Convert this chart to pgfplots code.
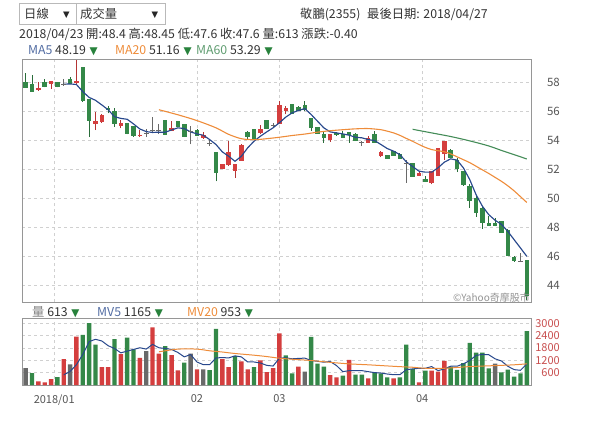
\documentclass[border=0pt]{standalone}
\usepackage{fontspec}
\setmainfont{Noto Sans CJK TC}
\newfontfamily\sym{DejaVu Sans}
\usepackage{pgfplots}
\usepackage{pgfplotstable}
\pgfplotsset{compat=1.18}
\definecolor{cred}{RGB}{212,62,62}
\definecolor{cgreen}{RGB}{52,136,72}
\definecolor{cgray}{RGB}{105,105,105}
\definecolor{cblue}{RGB}{40,72,140}
\definecolor{corange}{RGB}{238,140,58}
\definecolor{cma60}{RGB}{68,140,88}
\definecolor{gridc}{RGB}{208,208,208}
\definecolor{framec}{RGB}{150,150,150}
\definecolor{txt}{RGB}{51,51,51}
\definecolor{tickc}{RGB}{85,85,85}
\definecolor{vtick}{RGB}{200,78,78}
\definecolor{arrowg}{RGB}{40,130,60}

\pgfplotstableread{
i o h l c
2 57.47 58.00 57.42 57.63
4 57.86 58.05 57.52 58.05
8 57.93 59.50 57.80 58.09
11 55.12 55.97 54.70 55.33
12 55.28 55.80 55.20 55.74
15 54.98 55.40 54.82 55.21
18 54.30 54.70 54.20 54.36
23 54.66 55.35 54.62 54.85
28 54.16 54.55 54.09 54.39
31 52.04 52.36 52.04 52.36
32 52.27 53.93 52.20 53.17
33 51.90 52.36 51.39 52.36
34 52.59 53.70 52.59 53.65
37 54.46 55.03 54.39 54.80
40 55.12 56.69 55.08 56.41
41 56.00 56.35 55.77 56.23
48 54.04 54.43 53.90 54.43
54 53.81 54.27 53.81 54.16
56 52.89 53.28 52.82 53.19
62 51.56 51.86 51.51 51.74
64 51.05 51.86 50.94 51.86
65 51.51 53.47 51.51 53.47
66 53.06 53.93 52.66 53.93
}\redc

\pgfplotstableread{
i o h l c
0 58.00 58.62 57.60 57.60
1 57.88 58.50 57.35 57.35
3 58.00 58.20 57.65 57.65
5 58.00 58.00 57.65 57.65
7 58.23 58.35 57.86 57.86
9 59.04 59.04 56.66 56.73
10 56.82 56.82 54.20 55.33
13 56.20 56.38 55.85 56.08
14 56.04 56.20 54.94 55.10
16 55.17 55.17 54.40 54.43
17 55.00 55.00 54.24 54.29
22 55.38 55.38 54.39 54.39
24 55.35 55.35 54.92 54.92
25 55.12 55.12 54.20 54.20
27 54.73 54.80 54.32 54.32
30 53.19 53.19 51.16 51.74
35 54.55 54.62 54.04 54.23
36 54.78 54.78 54.09 54.09
38 55.42 55.42 54.78 54.78
42 56.50 56.50 55.82 55.82
43 56.28 56.35 56.00 56.00
44 56.46 56.69 56.00 56.05
45 55.54 55.54 54.62 54.85
46 54.92 54.92 54.43 54.43
47 54.43 54.57 53.81 54.16
49 54.50 54.55 54.30 54.34
50 54.43 54.62 54.16 54.16
51 54.55 54.55 53.81 54.34
52 54.39 54.50 53.93 53.93
55 54.39 54.62 53.81 53.81
57 53.00 53.00 52.70 52.70
58 53.24 53.28 52.94 52.94
59 53.05 53.10 52.70 52.70
61 52.43 52.43 51.47 51.47
63 51.33 51.51 51.10 51.10
67 53.35 53.40 52.78 52.78
68 52.66 52.78 51.79 52.02
69 51.90 51.90 50.87 50.94
70 50.82 50.94 49.32 49.78
71 50.01 50.13 48.70 48.98
72 49.32 49.39 47.87 48.29
73 48.25 48.75 48.10 48.10
74 48.25 48.63 48.05 48.10
75 48.40 48.45 47.60 47.60
76 47.78 47.87 46.03 46.03
77 45.94 46.03 45.61 45.65
79 45.75 45.75 42.99 43.22
}\greenc

\pgfplotstableread{
i o h l c
6 57.86 58.25 57.75 57.86
19 54.45 54.75 54.20 54.45
20 54.70 55.60 54.55 54.70
21 54.66 55.08 54.43 54.66
26 54.57 55.00 53.70 54.57
29 53.77 54.04 53.58 53.77
39 55.03 55.20 54.85 55.03
53 53.81 53.97 53.58 53.81
60 52.36 52.60 51.05 52.36
78 45.65 46.20 45.60 45.65
}\dojic

\pgfplotstableread{
i v
2 180
3 130
4 280
6 1250
8 2350
12 870
13 870
15 1495
18 1315
20 2790
21 1528
23 1446
24 706
27 756
31 1250
32 870
34 1150
35 756
37 1200
38 624
39 822
40 2510
43 894
48 484
49 369
51 1222
54 320
58 320
62 123
64 697
65 648
66 1173
}\vred

\pgfplotstableread{
i v
1 575
5 378
9 2430
10 3000
11 1955
14 2220
16 2300
17 1725
22 1890
25 1085
29 723
30 2727
33 1413
36 870
41 1435
42 566
45 2337
46 1041
47 894
50 451
52 500
53 500
55 600
56 566
57 369
59 369
60 1960
61 780
63 697
67 894
68 730
69 1058
70 2042
71 1566
72 1566
73 812
75 613
76 746
77 402
78 566
79 2616
}\vgreen

\pgfplotstableread{
i v
0 822
7 1000
19 1643
26 1528
28 756
44 648
74 1041
}\vgray

\pgfplotsset{
  kstyle/.style={scale only axis, anchor=north west, width=509pt,
    xmin=-0.58, xmax=79.66,
    axis line style={draw=framec, line width=0.8pt},
    grid=major, major grid style={draw=gridc, dash pattern=on 3pt off 3pt, line width=0.6pt},
    tick style={draw=none},
    xtick={4.5,27,40,62.5},
    yticklabel pos=right,
    /pgf/number format/assume math mode=true,
    /pgf/number format/1000 sep={},
  },
  wick/.style={forget plot, mark=none, draw=none,
    error bars/.cd, y dir=plus, y explicit, error mark=none,
    error bar style={line width=0.9pt, draw=#1}},
  body/.style={forget plot, mark=none, draw=none,
    error bars/.cd, y dir=both, y explicit, error mark=none,
    error bar style={line width=4.5pt, draw=#1}},
}
\newcommand{\dn}{\hspace{1pt}{\sym\fontsize{10.5}{11}\selectfont\color{arrowg}▼}}
\tikzset{hdr/.style={anchor=base west, inner sep=0, font=\fontsize{12.3}{14}\selectfont, text=txt}}

\begin{document}
\begin{tikzpicture}[x=1pt,y=1pt]
\useasboundingbox (0pt,0pt) rectangle (600pt,-434pt);

% dropdown boxes
\draw[draw=gray!55, line width=0.7pt] (19.5,-3.5) rectangle (76,-24);
\draw[draw=gray!55, line width=0.7pt] (76,-3.5) rectangle (165,-24);
\node[hdr] at (24,-18.5) {日線};
\node[anchor=base west, inner sep=0, font=\sym\fontsize{8.5}{9}\selectfont, text=black!85] at (63,-17) {▼};
\node[hdr] at (80,-18.5) {成交量};
\node[anchor=base west, inner sep=0, font=\sym\fontsize{8.5}{9}\selectfont, text=black!85] at (151.5,-17) {▼};

\node[hdr] at (300,-18) {敬鵬(2355)};
\node[hdr] at (367,-18) {最後日期: 2018/04/27};

\node[hdr] at (19,-38) {2018/04/23 開:48.4 高:48.45 低:47.6 收:47.6 量:613 漲跌:-0.40};

% MA header
\node[hdr] at (28,-54) {{\color{cblue!80}MA5} 48.19 \dn};
\node[hdr] at (115,-54) {{\color{corange}MA20} 51.16 \dn};
\node[hdr] at (196,-54) {{\color{cma60!85}MA60} 53.29 \dn};

% price panel
\begin{axis}[kstyle, at={(22pt,-59pt)}, height=243pt,
  ymin=42.83, ymax=59.6, ytick={44,46,...,58},
  xticklabels={},
  yticklabel style={anchor=east, inner sep=0pt, xshift=29pt, text=tickc, font=\fontsize{11.5}{13}\selectfont},
]
\addplot[wick=cred!85!black] table[x=i, y=l, y error expr=\thisrow{h}-\thisrow{l}] {\redc};
\addplot[wick=cgreen!80!black] table[x=i, y=l, y error expr=\thisrow{h}-\thisrow{l}] {\greenc};
\addplot[wick=cgray] table[x=i, y=l, y error expr=\thisrow{h}-\thisrow{l}] {\dojic};
\addplot[body=cred] table[x=i, y expr={(\thisrow{o}+\thisrow{c})/2}, y error expr={abs(\thisrow{o}-\thisrow{c})/2}] {\redc};
\addplot[body=cgreen] table[x=i, y expr={(\thisrow{o}+\thisrow{c})/2}, y error expr={abs(\thisrow{o}-\thisrow{c})/2}] {\greenc};
\addplot[only marks, mark=-, mark size=2.4pt, mark options={line width=1pt, draw=cgray}] table[x=i, y=o] {\dojic};
% MA5
\addplot[cblue, line width=1.15pt, mark=none] coordinates {
(6,57.86)(7,57.88)(8,57.84)(9,57.35)(10,56.95)(11,56.75)(12,56.43)(13,56.1)(14,55.62)(15,55.5)
(16,55.44)(17,55.12)(18,54.77)(19,54.59)(20,54.53)(21,54.55)(22,54.55)(23,54.7)(24,54.85)(25,54.8)
(26,54.57)(27,54.43)(28,54.34)(29,54.04)(30,53.7)(31,53.19)(32,52.89)(33,52.54)(34,52.89)(35,53.47)
(36,53.93)(37,54.27)(38,54.57)(39,54.85)(40,55.2)(41,55.59)(42,55.88)(43,56.05)(44,56.18)(45,55.77)
(46,55.31)(47,54.85)(48,54.57)(49,54.5)(50,54.43)(51,54.34)(52,54.2)(53,54.16)(54,54.04)(55,53.97)
(56,53.7)(57,53.42)(58,53.24)(59,53.0)(60,52.5)(61,52.18)(62,51.86)(63,51.79)(64,51.79)(65,52.09)
(66,52.48)(67,52.71)(68,52.62)(69,52.09)(70,51.28)(71,50.24)(72,49.44)(73,48.86)(74,48.47)(75,48.19)
(76,47.71)(77,47.13)(78,46.56)(79,45.98)};
% MA20
\addplot[corange, line width=1.1pt, mark=none, smooth] coordinates {
(21,56.1)(24,55.75)(27,55.35)(30,54.85)(32,54.4)(34,54.1)(36,54.03)(38,54.1)(40,54.2)(42,54.32)
(44,54.42)(46,54.55)(48,54.65)(50,54.72)(52,54.78)(54,54.8)(56,54.72)(57,54.62)(58,54.5)(59,54.33)
(60,54.12)(61,53.92)(62,53.7)(63,53.5)(64,53.35)(65,53.27)(66,53.2)(67,53.05)(68,52.85)(69,52.65)
(70,52.45)(71,52.2)(72,51.95)(73,51.7)(74,51.43)(75,51.16)(76,50.85)(77,50.5)(78,50.1)(79,49.7)};
% MA60
\addplot[cma60, line width=1.1pt, mark=none, smooth] coordinates {
(61,54.75)(64,54.5)(67,54.25)(70,53.95)(73,53.6)(75,53.29)(77,53.0)(79,52.7)};
\end{axis}

\node[anchor=east, inner sep=0, font=\fontsize{10}{11}\selectfont, text=gray!85] at (530,-297.5) {©Yahoo奇摩股市};

% volume header
\node[hdr] at (32,-316.5) {{\color{gray}量} 613 \dn};
\node[hdr] at (97,-316.5) {{\color{cblue!80}MV5} 1165 \dn};
\node[hdr] at (187,-316.5) {{\color{corange}MV20} 953 \dn};

% volume panel
\begin{axis}[kstyle, at={(22pt,-318pt)}, height=67pt,
  ymin=0, ymax=3250, ytick={600,1200,...,3000},
  xticklabels={2018/01,02,03,04},
  xticklabel style={text=tickc, font=\fontsize{11}{12}\selectfont, yshift=-6pt},
  yticklabel style={anchor=east, inner sep=0pt, xshift=29pt, text=vtick, font=\fontsize{11}{12}\selectfont},
]
\addplot[ybar, bar width=4.4pt, bar shift=0pt, fill=cred, draw=none] table[x=i, y=v] {\vred};
\addplot[ybar, bar width=4.4pt, bar shift=0pt, fill=cgreen, draw=none] table[x=i, y=v] {\vgreen};
\addplot[ybar, bar width=4.4pt, bar shift=0pt, fill=cgray, draw=none] table[x=i, y=v] {\vgray};
% MV5
\addplot[cblue, line width=1pt, mark=none] coordinates {
(6,493)(7,657)(8,986)(9,1479)(10,2103)(11,2218)(12,2136)(13,1906)(14,1774)(15,1560)
(16,1643)(17,1725)(18,1807)(19,1742)(20,1972)(21,1807)(22,1774)(23,1725)(24,1577)(25,1364)
(26,1479)(27,1117)(28,986)(29,986)(30,1314)(31,1331)(32,1314)(33,1413)(34,1364)(35,1117)
(36,1117)(37,1068)(38,953)(39,920)(40,1300)(41,1320)(42,1271)(43,1290)(44,1304)(45,1189)
(46,1150)(47,1107)(48,1140)(49,943)(50,648)(51,697)(52,700)(53,697)(54,648)(55,600)
(56,582)(57,533)(58,500)(59,500)(60,746)(61,779)(62,812)(63,812)(64,894)(65,697)
(66,779)(67,910)(68,910)(69,1025)(70,1189)(71,1435)(72,1484)(73,1468)(74,1271)(75,1165)
(76,910)(77,746)(78,713)(79,1025)};
% MV20
\addplot[corange, line width=1pt, mark=none, smooth] coordinates {
(21,1610)(24,1741)(27,1741)(29,1660)(31,1600)(33,1528)(36,1446)(38,1380)(40,1300)(42,1250)
(45,1189)(48,1100)(51,1025)(54,980)(56,943)(59,890)(61,861)(63,812)(66,812)(68,850)
(70,894)(73,930)(75,953)(77,980)(79,1025)};
\end{axis}
\end{tikzpicture}
\end{document}
